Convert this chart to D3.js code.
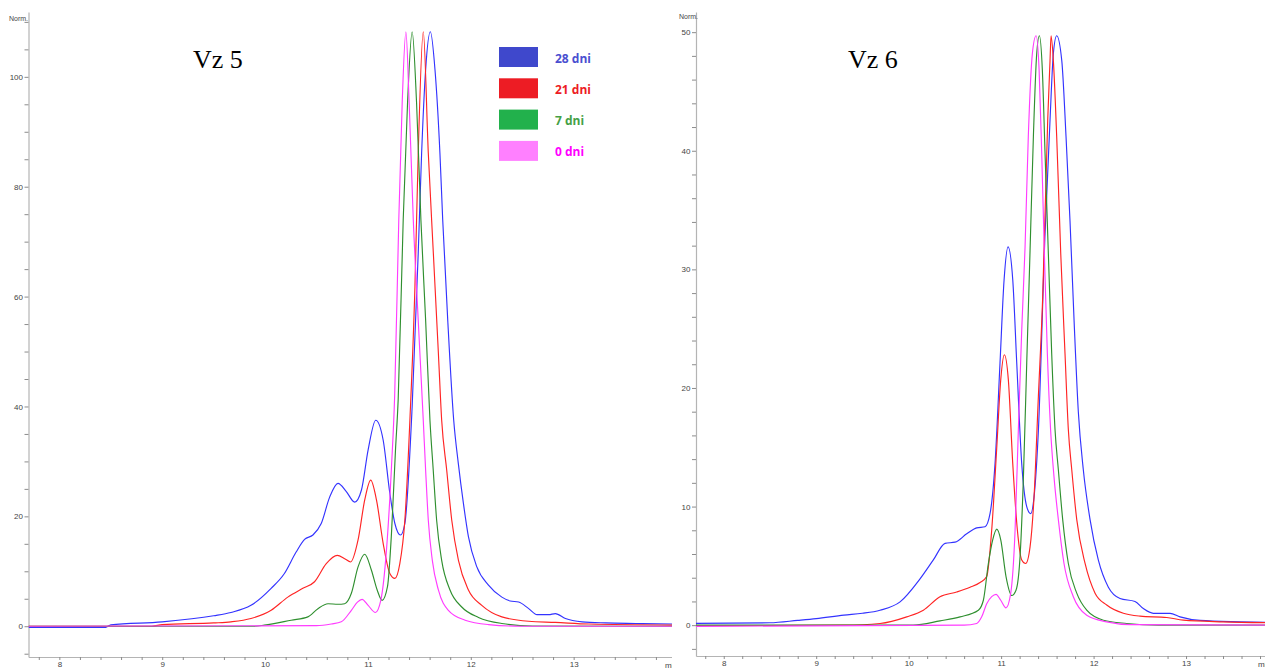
<!DOCTYPE html>
<html>
<head>
<meta charset="utf-8">
<script src="https://cdn.jsdelivr.net/npm/d3@7"></script>
<style>
  html, body { margin: 0; padding: 0; background: #fff; overflow: hidden; }
  svg { display: block; }
</style>
</head>
<body>
<svg id="chart" width="1265" height="671"></svg>
<script>
// ---- Chromatogram data: [retention time (min), normalised signal] ----

// Vz 5
const vz5_28dni = [
  [7.70, -0.2], [8.45, -0.2], [8.50, 0.25], [9.00, 0.8], [9.50, 1.9], [9.668, 2.5], [9.863, 3.8],
  [10.059, 6.9], [10.188, 9.6], [10.302, 13.5], [10.384, 15.8], [10.465, 16.6], [10.546, 18.7],
  [10.628, 23.5], [10.709, 26.0], [10.790, 24.5], [10.871, 22.6], [10.937, 24.8], [11.002, 32.1],
  [11.076, 37.5], [11.148, 33.9], [11.213, 24.2], [11.262, 18.7], [11.317, 16.6], [11.359, 18.7],
  [11.430, 40.0], [11.489, 67.9], [11.522, 86.1], [11.561, 101.3], [11.607, 108.2], [11.652, 101.3],
  [11.700, 86.1], [11.727, 74.0], [11.776, 55.7], [11.834, 37.5], [11.879, 29.6], [11.928, 22.4],
  [11.977, 16.3], [12.059, 10.8], [12.172, 7.5], [12.302, 5.3], [12.383, 4.6], [12.465, 4.4],
  [12.563, 3.2], [12.644, 2.1], [12.758, 2.1], [12.822, 2.3], [12.920, 1.4], [13.083, 0.8],
  [13.310, 0.6], [13.603, 0.5], [14.00, 0.4]
];
const vz5_21dni = [
  [7.70, 0.0], [8.90, 0.0], [9.00, 0.3], [9.50, 0.6], [9.668, 0.8], [9.863, 1.4], [10.059, 2.9],
  [10.221, 5.3], [10.367, 6.9], [10.481, 8.1], [10.595, 11.4], [10.702, 12.9], [10.774, 12.3],
  [10.832, 11.7], [10.904, 15.7], [10.969, 23.0], [11.027, 26.6], [11.083, 23.0], [11.148, 15.1],
  [11.213, 9.6], [11.262, 8.7], [11.310, 11.4], [11.359, 19.3], [11.408, 37.5], [11.457, 61.8],
  [11.489, 86.1], [11.538, 108.2], [11.587, 86.1], [11.636, 67.9], [11.685, 49.7], [11.717, 37.5],
  [11.766, 28.4], [11.815, 19.3], [11.880, 12.0], [11.977, 6.6], [12.107, 3.8], [12.302, 1.7],
  [12.563, 0.9], [12.822, 0.7], [13.148, 0.4], [14.00, 0.2]
];
const vz5_7dni = [
  [7.70, 0.0], [9.90, 0.0], [9.993, 0.2], [10.254, 1.1], [10.416, 1.7], [10.514, 3.2], [10.612, 4.1],
  [10.709, 4.0], [10.774, 4.1], [10.839, 6.0], [10.904, 10.8], [10.969, 13.1], [11.034, 10.2],
  [11.090, 6.6], [11.138, 4.7], [11.190, 7.2], [11.229, 16.9], [11.268, 32.1], [11.294, 41.2],
  [11.343, 74.0], [11.385, 95.2], [11.430, 108.2], [11.473, 95.2], [11.515, 74.0], [11.561, 55.7],
  [11.603, 37.5], [11.635, 28.4], [11.668, 19.3], [11.717, 12.0], [11.798, 6.6], [11.912, 3.5],
  [12.075, 1.6], [12.302, 0.5], [12.600, 0.05], [14.00, 0.0]
];
const vz5_0dni = [
  [7.70, 0.0], [10.50, 0.1], [10.644, 0.4], [10.741, 0.8], [10.839, 2.9], [10.898, 4.4],
  [10.943, 4.9], [11.002, 3.8], [11.073, 2.5], [11.125, 4.7], [11.180, 13.8], [11.229, 29.0],
  [11.260, 42.0], [11.300, 74.0], [11.333, 95.2], [11.369, 108.2], [11.401, 95.2], [11.441, 74.0],
  [11.489, 55.7], [11.538, 37.5], [11.561, 28.4], [11.587, 19.3], [11.626, 12.0], [11.685, 6.6],
  [11.782, 2.9], [11.945, 1.1], [12.172, 0.3], [12.500, 0.0], [14.00, 0.0]
];

// Vz 6
const vz6_28dni = [
  [7.70, 0.15], [8.50, 0.2], [8.80, 0.4], [9.00, 0.55], [9.30, 0.85], [9.50, 1.0], [9.690, 1.26],
  [9.907, 1.96], [10.123, 3.9], [10.267, 5.5], [10.394, 6.9], [10.502, 7.0], [10.628, 7.7],
  [10.736, 8.2], [10.826, 8.3], [10.880, 9.4], [10.934, 13.6], [10.988, 22.1], [11.032, 29.1],
  [11.075, 31.9], [11.126, 29.1], [11.169, 22.1], [11.223, 13.6], [11.277, 10.0], [11.320, 9.4],
  [11.356, 10.8], [11.403, 16.4], [11.475, 33.0], [11.529, 42.6], [11.565, 48.2], [11.601, 49.7],
  [11.656, 47.6], [11.702, 41.2], [11.745, 34.1], [11.789, 25.7], [11.835, 18.0], [11.889, 13.1],
  [11.962, 8.9], [12.051, 5.5], [12.160, 3.2], [12.286, 2.25], [12.448, 2.0], [12.538, 1.4],
  [12.646, 1.0], [12.827, 1.0], [12.935, 0.7], [13.151, 0.4], [13.584, 0.28], [14.00, 0.22]
];
const vz6_21dni = [
  [7.70, -0.05], [9.30, 0.0], [9.690, 0.14], [9.979, 0.7], [10.159, 1.26], [10.339, 2.4],
  [10.520, 2.8], [10.664, 3.2], [10.772, 3.6], [10.844, 4.1], [10.898, 8.0], [10.953, 15.0],
  [10.996, 20.7], [11.035, 22.8], [11.078, 20.7], [11.126, 13.6], [11.176, 8.0], [11.223, 5.5],
  [11.266, 5.2], [11.313, 6.6], [11.356, 10.8], [11.403, 19.3], [11.450, 27.7], [11.504, 42.6],
  [11.529, 47.6], [11.540, 49.7], [11.565, 47.6], [11.601, 41.2], [11.645, 31.3], [11.691, 22.9],
  [11.727, 16.5], [11.764, 13.1], [11.818, 8.9], [11.908, 5.2], [12.016, 2.7], [12.142, 1.7],
  [12.322, 1.0], [12.503, 0.76], [12.791, 0.65], [12.971, 0.42], [13.403, 0.28], [14.00, 0.2]
];
const vz6_7dni = [
  [7.70, 0.0], [10.05, 0.0], [10.339, 0.36], [10.556, 0.7], [10.754, 1.26], [10.808, 2.1],
  [10.862, 5.2], [10.909, 7.2], [10.953, 8.1], [10.996, 7.2], [11.053, 4.1], [11.115, 2.5],
  [11.161, 2.95], [11.205, 5.8], [11.240, 12.2], [11.277, 22.1], [11.313, 31.6], [11.349, 41.2],
  [11.385, 48.2], [11.414, 49.7], [11.446, 46.8], [11.475, 39.8], [11.511, 31.3], [11.547, 22.9],
  [11.583, 16.5], [11.619, 13.1], [11.666, 8.9], [11.727, 5.2], [11.818, 2.7], [11.926, 1.26],
  [12.106, 0.42], [12.359, 0.14], [12.700, 0.0], [14.00, 0.0]
];
const vz6_0dni = [
  [7.70, -0.1], [10.60, 0.0], [10.736, 0.14], [10.790, 0.7], [10.844, 1.8], [10.898, 2.4],
  [10.945, 2.6], [10.996, 2.1], [11.053, 1.46], [11.104, 2.7], [11.151, 8.0], [11.186, 16.4],
  [11.223, 24.9], [11.259, 31.9], [11.294, 41.2], [11.338, 48.2], [11.378, 49.7], [11.411, 46.8],
  [11.439, 39.8], [11.468, 31.3], [11.500, 22.9], [11.535, 16.5], [11.572, 12.5], [11.619, 8.9],
  [11.680, 5.2], [11.781, 2.4], [11.926, 0.84], [12.142, 0.28], [12.400, 0.05], [14.00, 0.0]
];

// Legend entries and colours (same order in both panels)
const seriesLabels = ["28 dni", "21 dni", "7 dni", "0 dni"];
const lineColors   = ["#3333ff", "#ff2424", "#2f8f2f", "#ff3cff"];
const swatchColors = ["#3f48cc", "#ed1c24", "#22b14c", "#ff80ff"];
const labelColors  = ["#4a4fd0", "#ed1c24", "#45a045", "#ff00ff"];

// Axis ranges and tick values
const timeDomain   = [7.7, 14.0];
const timeTicks    = d3.range(39, 70).map(i => i / 5);   // every 0.2 min, 7.8 … 13.8
const vz5Domain    = [-5.6, 111.8];
const vz5Ticks     = d3.range(-5, 111, 5);
const vz5Labelled  = 20;
const vz6Domain    = [-2.6, 51.7];
const vz6Ticks     = d3.range(-2, 51, 2);
const vz6Labelled  = 10;

const panels = [
  { id: "vz5", title: "Vz 5", series: [vz5_28dni, vz5_21dni, vz5_7dni, vz5_0dni],
    yDomain: vz5Domain, yTicks: vz5Ticks, yLabelEvery: vz5Labelled,
    clipLeft: 0, clipRight: 672, xRange: [28.5, 676.5], yRange: [657, 12],
    titlePos: [193, 68], normPos: [9, 21], legend: true },
  { id: "vz6", title: "Vz 6", series: [vz6_28dni, vz6_21dni, vz6_7dni, vz6_0dni],
    yDomain: vz6Domain, yTicks: vz6Ticks, yLabelEvery: vz6Labelled,
    clipLeft: 672, clipRight: 1265, xRange: [696, 1278.5], yRange: [656, 12],
    titlePos: [848, 68], normPos: [679, 19], legend: false }
];

const svg = d3.select("#chart");
svg.append("rect").attr("width", 1265).attr("height", 671).attr("fill", "#fff");
const defs = svg.append("defs");

panels.forEach(p => {
  defs.append("clipPath").attr("id", "panel-" + p.id)
    .append("rect")
    .attr("x", p.clipLeft).attr("y", 0)
    .attr("width", p.clipRight - p.clipLeft).attr("height", 671);
  defs.append("clipPath").attr("id", "plot-" + p.id)
    .append("rect")
    .attr("x", p.xRange[0]).attr("y", p.yRange[1] - 5)
    .attr("width", p.clipRight - p.xRange[0]).attr("height", p.yRange[0] - p.yRange[1] + 5);

  const g = svg.append("g").attr("clip-path", `url(#panel-${p.id})`);
  g.append("rect")
    .attr("x", p.clipLeft).attr("y", 0)
    .attr("width", p.clipRight - p.clipLeft).attr("height", 671)
    .attr("fill", "#fff");

  const x = d3.scaleLinear().domain(timeDomain).range(p.xRange);
  const y = d3.scaleLinear().domain(p.yDomain).range(p.yRange);

  // y axis
  const yAxis = d3.axisLeft(y)
    .tickValues(p.yTicks)
    .tickSize(4).tickSizeOuter(0).tickPadding(1.5)
    .tickFormat(d => (d >= 0 && d % p.yLabelEvery === 0) ? d : "");
  const ya = g.append("g").attr("transform", `translate(${p.xRange[0]},0)`).call(yAxis);

  // x axis
  const xAxis = d3.axisBottom(x)
    .tickValues(timeTicks)
    .tickSize(3).tickSizeOuter(0).tickPadding(1.5)
    .tickFormat(d => Math.abs(d - Math.round(d)) < 1e-6 ? Math.round(d) : "");
  const xa = g.append("g").attr("transform", `translate(0,${p.yRange[0]})`).call(xAxis);

  [ya, xa].forEach(a => {
    a.select(".domain").attr("stroke", "#b4b4b4").attr("stroke-width", 1.2);
    a.selectAll(".tick line").attr("stroke", "#8c8c8c");
    a.selectAll(".tick text")
      .attr("fill", "#444").attr("font-size", 8)
      .attr("font-family", "Liberation Sans, Arial, sans-serif");
  });

  // unit labels
  g.append("text")
    .attr("x", p.normPos[0]).attr("y", p.normPos[1])
    .attr("font-size", 7).attr("fill", "#444")
    .attr("font-family", "Liberation Sans, Arial, sans-serif")
    .text("Norm.");
  g.append("text")
    .attr("x", p.clipRight - 7).attr("y", p.yRange[0] + 11)
    .attr("font-size", 8).attr("fill", "#444")
    .attr("font-family", "Liberation Sans, Arial, sans-serif")
    .text("min");

  // traces
  const line = d3.line()
    .x(d => x(d[0]))
    .y(d => y(d[1]))
    .curve(d3.curveMonotoneX);
  const traces = g.append("g").attr("clip-path", `url(#plot-${p.id})`);
  traces.selectAll("path")
    .data(p.series)
    .join("path")
    .attr("d", line)
    .attr("fill", "none")
    .attr("stroke", (d, i) => lineColors[i])
    .attr("stroke-width", 1.15)
    .attr("stroke-linejoin", "round");

  // panel title
  g.append("text")
    .attr("x", p.titlePos[0]).attr("y", p.titlePos[1])
    .attr("font-family", "Liberation Serif, Times New Roman, serif")
    .attr("font-size", 26).attr("fill", "#000")
    .text(p.title);

  // legend
  if (p.legend) {
    const lg = g.append("g").attr("transform", "translate(499,47)");
    const item = lg.selectAll("g")
      .data(seriesLabels)
      .join("g")
      .attr("transform", (d, i) => `translate(0,${i * 31.3})`);
    item.append("rect")
      .attr("width", 39).attr("height", 20)
      .attr("fill", (d, i) => swatchColors[i]);
    item.append("text")
      .attr("x", 56).attr("y", 15.5)
      .attr("font-family", "Open Sans, Liberation Sans, sans-serif")
      .attr("font-weight", "bold").attr("font-size", 12)
      .attr("fill", (d, i) => labelColors[i])
      .text(d => d);
  }
});
</script>
</body>
</html>
